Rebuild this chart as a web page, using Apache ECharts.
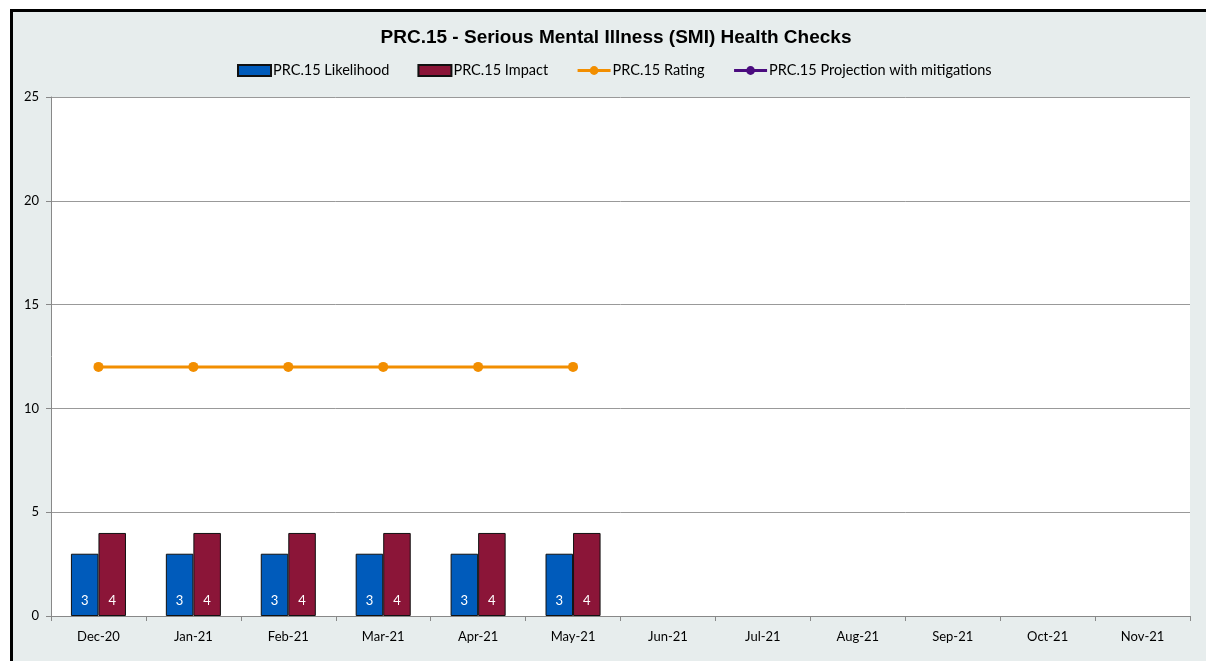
<!DOCTYPE html>
<html><head><meta charset="utf-8">
<script src="https://cdn.jsdelivr.net/npm/echarts@6/dist/echarts.min.js"></script>
<style>html,body{margin:0;padding:0;background:#fff}#c{width:1206px;height:661px}</style>
</head><body><div id="c"></div>
<script>
const categories = ['Dec-20','Jan-21','Feb-21','Mar-21','Apr-21','May-21','Jun-21','Jul-21','Aug-21','Sep-21','Oct-21','Nov-21'];
const likelihood = [3,3,3,3,3,3,null,null,null,null,null,null];
const impact = [4,4,4,4,4,4,null,null,null,null,null,null];
const rating = [12,12,12,12,12,12,null,null,null,null,null,null];
const projection = [null,null,null,null,null,null,null,null,null,null,null,null];
const yTicks = [0,5,10,15,20,25];

const chart = echarts.init(document.getElementById('c'));
const font = 'Lato, "Open Sans", sans-serif';
chart.setOption({
  backgroundColor: '#ffffff',
  animation: false,
  graphic: [{
    type: 'rect', z: -10, silent: true,
    shape: {x: 11.5, y: 10.5, width: 1300, height: 700},
    style: {fill: '#e7eded', stroke: '#000', lineWidth: 3}
  }],
  title: {
    text: 'PRC.15 - Serious Mental Illness (SMI) Health Checks',
    left: 611, top: 23, textAlign: 'center',
    textStyle: {fontFamily: 'Liberation Sans, Arial, sans-serif', fontSize: 19, fontWeight: 'bold', color: '#000'}
  },
  legend: {
    top: 63, left: 237, padding: 0, itemGap: 28, itemWidth: 33, itemHeight: 11,
    textStyle: {fontFamily: font, fontSize: 14.5, color: '#000', padding: [0,0,0,-3]},
    data: [
      {name: 'PRC.15 Likelihood', icon: 'rect'},
      {name: 'PRC.15 Impact', icon: 'rect'},
      {name: 'PRC.15 Rating', lineStyle: {width: 3}},
      {name: 'PRC.15 Projection with mitigations', lineStyle: {width: 3}}
    ]
  },
  grid: {left: 51, right: 16, top: 97, bottom: 45, show: true, backgroundColor: '#fff', borderWidth: 0},
  xAxis: {
    type: 'category', data: categories,
    axisLine: {lineStyle: {color: '#888', width: 1}},
    axisTick: {show: true, length: 5, lineStyle: {color: '#888'}},
    axisLabel: {fontFamily: font, fontSize: 13, color: '#000', margin: 14}
  },
  yAxis: {
    type: 'value', min: 0, max: 25, interval: 5,
    axisLine: {show: true, lineStyle: {color: '#888'}},
    axisTick: {show: true, length: 5, lineStyle: {color: '#888'}},
    splitLine: {lineStyle: {color: '#999', width: 1}},
    axisLabel: {fontFamily: font, fontSize: 13, color: '#000', margin: 12,
      formatter: v => yTicks.includes(v) ? String(v) : ''}
  },
  series: [
    {name: 'PRC.15 Likelihood', type: 'bar', data: likelihood, barGap: '0%', barCategoryGap: '42%',
     itemStyle: {color: '#005bbb', borderColor: '#111', borderWidth: 1},
     label: {show: true, position: 'insideBottom', distance: 9, color: '#fff', fontFamily: font, fontSize: 13}},
    {name: 'PRC.15 Impact', type: 'bar', data: impact,
     itemStyle: {color: '#8b1538', borderColor: '#111', borderWidth: 1},
     label: {show: true, position: 'insideBottom', distance: 9, color: '#fff', fontFamily: font, fontSize: 13}},
    {name: 'PRC.15 Rating', type: 'line', data: rating, symbol: 'circle', symbolSize: 10,
     lineStyle: {color: '#f28e00', width: 3}, itemStyle: {color: '#f28e00'}},
    {name: 'PRC.15 Projection with mitigations', type: 'line', data: projection, symbol: 'circle', symbolSize: 10,
     lineStyle: {color: '#4b0c7f', width: 3}, itemStyle: {color: '#4b0c7f'}}
  ]
});
</script></body></html>
